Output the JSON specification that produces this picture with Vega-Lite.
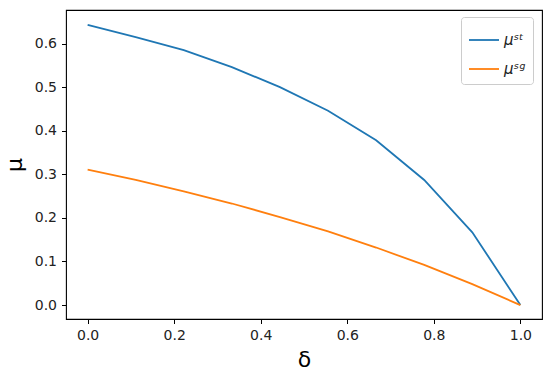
{
  "$schema": "https://vega.github.io/schema/vega-lite/v6.json",
  "autosize": "none",
  "width": 476,
  "height": 309,
  "padding": {"left": 66, "top": 10, "right": 8, "bottom": 58},
  "background": "white",
  "config": {
    "view": {"stroke": "black", "strokeWidth": 1.1},
    "font": "DejaVu Sans",
    "axis": {
      "grid": false,
      "domain": false,
      "tickColor": "black",
      "tickSize": 4.5,
      "tickWidth": 1,
      "labelFont": "DejaVu Sans",
      "labelFontSize": 14,
      "labelColor": "#222222",
      "titleFont": "DejaVu Sans",
      "titleFontWeight": "normal",
      "titleColor": "black",
      "titleFontSize": 22
    }
  },
  "data": {
    "values": [
      {"delta": 0.0, "mu": 0.643, "series": "μˢᵗ"},
      {"delta": 0.1111, "mu": 0.615, "series": "μˢᵗ"},
      {"delta": 0.2222, "mu": 0.585, "series": "μˢᵗ"},
      {"delta": 0.3333, "mu": 0.546, "series": "μˢᵗ"},
      {"delta": 0.4444, "mu": 0.500, "series": "μˢᵗ"},
      {"delta": 0.5556, "mu": 0.446, "series": "μˢᵗ"},
      {"delta": 0.6667, "mu": 0.378, "series": "μˢᵗ"},
      {"delta": 0.7778, "mu": 0.287, "series": "μˢᵗ"},
      {"delta": 0.8889, "mu": 0.167, "series": "μˢᵗ"},
      {"delta": 1.0, "mu": 0.0, "series": "μˢᵗ"},
      {"delta": 0.0, "mu": 0.311, "series": "μˢᵍ"},
      {"delta": 0.1111, "mu": 0.287, "series": "μˢᵍ"},
      {"delta": 0.2222, "mu": 0.261, "series": "μˢᵍ"},
      {"delta": 0.3333, "mu": 0.233, "series": "μˢᵍ"},
      {"delta": 0.4444, "mu": 0.202, "series": "μˢᵍ"},
      {"delta": 0.5556, "mu": 0.169, "series": "μˢᵍ"},
      {"delta": 0.6667, "mu": 0.132, "series": "μˢᵍ"},
      {"delta": 0.7778, "mu": 0.092, "series": "μˢᵍ"},
      {"delta": 0.8889, "mu": 0.048, "series": "μˢᵍ"},
      {"delta": 1.0, "mu": 0.0, "series": "μˢᵍ"}
    ]
  },
  "mark": {"type": "line", "strokeWidth": 1.8, "clip": true},
  "encoding": {
    "x": {
      "field": "delta",
      "type": "quantitative",
      "title": "δ",
      "scale": {"domain": [-0.05, 1.05], "nice": false, "zero": false},
      "axis": {"values": [0, 0.2, 0.4, 0.6, 0.8, 1.0], "format": ".1f", "labelPadding": 5, "titlePadding": 7}
    },
    "y": {
      "field": "mu",
      "type": "quantitative",
      "title": "μ",
      "scale": {"domain": [-0.032, 0.677], "nice": false, "zero": false},
      "axis": {"values": [0, 0.1, 0.2, 0.3, 0.4, 0.5, 0.6], "format": ".1f", "labelPadding": 5, "titlePadding": 8}
    },
    "color": {
      "field": "series",
      "type": "nominal",
      "scale": {"domain": ["μˢᵗ", "μˢᵍ"], "range": ["#1f77b4", "#ff7f0e"]},
      "legend": {
        "title": null,
        "orient": "none",
        "legendX": 395,
        "legendY": 7,
        "symbolType": "stroke",
        "symbolSize": 900,
        "symbolStrokeWidth": 1.8,
        "labelFont": "DejaVu Sans",
        "labelFontSize": 15,
        "labelFontStyle": "italic",
        "labelColor": "#222222",
        "strokeColor": "#cccccc",
        "fillColor": "white",
        "cornerRadius": 3,
        "padding": 7,
        "rowPadding": 5
      }
    }
  }
}
